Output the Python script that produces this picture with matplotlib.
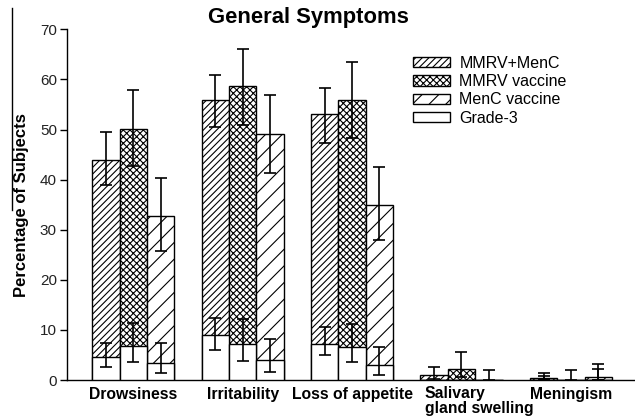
import numpy as np
import matplotlib
matplotlib.use('Agg')
import matplotlib.pyplot as plt
from matplotlib.lines import Line2D
from matplotlib.transforms import ScaledTranslation

plt.rcParams['font.family'] = 'Liberation Sans'
plt.rcParams['hatch.linewidth'] = 0.8

# Symptom categories
categories = ['Drowsiness', 'Irritability', 'Loss of appetite',
              'Salivary\ngland swelling', 'Meningism']
series_names = ['MMRV+MenC', 'MMRV vaccine', 'MenC vaccine']
hatches = ['/////', 'xxxxx', '//']

# Any grade: % of subjects with 95% CI (lower, upper)
mmrv_menc = [43.9, 55.8, 53.0, 1.0, 0.4]
mmrv_menc_lo = [38.9, 50.6, 47.4, 0.3, 0.0]
mmrv_menc_hi = [49.5, 60.9, 58.3, 2.5, 1.3]

mmrv = [50.2, 58.7, 55.9, 2.1, 0.0]
mmrv_lo = [42.7, 51.0, 48.4, 0.6, 0.0]
mmrv_hi = [57.9, 66.1, 63.4, 5.5, 1.9]

menc = [32.7, 49.1, 35.0, 0.0, 0.7]
menc_lo = [25.8, 41.4, 27.9, 0.0, 0.1]
menc_hi = [40.3, 56.9, 42.6, 2.0, 3.1]

# Grade-3 symptoms
g3_mmrv_menc = [4.6, 8.9, 7.2, 0.0, 0.0]
g3_mmrv_menc_lo = [2.5, 6.0, 4.9, 0.0, 0.0]
g3_mmrv_menc_hi = [7.4, 12.4, 10.6, 0.0, 0.8]

g3_mmrv = [6.7, 7.2, 6.6, 0.0, 0.0]
g3_mmrv_lo = [3.5, 3.8, 3.5, 0.0, 0.0]
g3_mmrv_hi = [11.4, 12.1, 11.2, 0.0, 0.0]

g3_menc = [3.3, 3.9, 2.9, 0.0, 0.0]
g3_menc_lo = [1.3, 1.5, 1.0, 0.0, 0.0]
g3_menc_hi = [7.3, 8.2, 6.6, 0.0, 2.2]

main_vals = [mmrv_menc, mmrv, menc]
main_lo = [mmrv_menc_lo, mmrv_lo, menc_lo]
main_hi = [mmrv_menc_hi, mmrv_hi, menc_hi]
g3_vals = [g3_mmrv_menc, g3_mmrv, g3_menc]
g3_lo = [g3_mmrv_menc_lo, g3_mmrv_lo, g3_menc_lo]
g3_hi = [g3_mmrv_menc_hi, g3_mmrv_hi, g3_menc_hi]

fig = plt.figure(figsize=(6.35, 4.17), dpi=100)
ax = fig.add_axes([0.105, 0.0887, 0.895, 0.841])

x = np.arange(len(categories))
width = 0.25


def draw_err(xpos, vals, lo, hi):
    vals, lo, hi = np.array(vals), np.array(lo), np.array(hi)
    keep = hi > lo
    ax.errorbar(xpos[keep], vals[keep], yerr=[vals[keep] - lo[keep], hi[keep] - vals[keep]],
                fmt='none', ecolor='black', elinewidth=1.2, capsize=4.5,
                capthick=1.2, zorder=5, clip_on=False)


handles = []
for j in range(3):
    xpos = x + (j - 1) * width
    b = ax.bar(xpos, main_vals[j], width, color='white', edgecolor='black',
               linewidth=1.0, hatch=hatches[j], zorder=2)
    handles.append(b)
    g = ax.bar(xpos, g3_vals[j], width, color='white', edgecolor='black',
               linewidth=1.0, zorder=3)
    draw_err(xpos, main_vals[j], main_lo[j], main_hi[j])
    draw_err(xpos, g3_vals[j], g3_lo[j], g3_hi[j])
handles.append(g)

ax.set_xlim(-0.609, 4.586)
ax.set_ylim(0, 70)
ax.set_yticks(np.arange(0, 71, 10))
ax.spines['top'].set_visible(False)
ax.spines['right'].set_visible(False)
ax.spines['left'].set_linewidth(1.0)
ax.spines['bottom'].set_linewidth(1.0)
ax.tick_params(axis='y', direction='out', length=5, width=1, labelsize=11,
               pad=2, labelcolor='#222222')
ax.tick_params(axis='x', length=0, pad=5)

# salivary label is left aligned in the original, drawn separately
ax.set_xticks(x)
ax.set_xticklabels([c if i != 3 else '' for i, c in enumerate(categories)],
                   fontsize=11.3, fontweight='bold')
ax.text(3, 0, categories[3], fontsize=11.3, fontweight='bold', ha='left',
        va='top', multialignment='left', linespacing=1.0,
        transform=ax.get_xaxis_transform() + ScaledTranslation(-0.365, -0.06, fig.dpi_scale_trans))

ax.set_ylabel('Percentage of Subjects', fontsize=12, fontweight='bold')
ax.yaxis.set_label_coords(-0.066, 0.5)

fig.text(308 / 635, 1 - 17 / 417, 'General Symptoms', ha='center', va='center',
         fontsize=15.8, fontweight='bold')

ax.legend(handles, series_names + ['Grade-3'], loc='upper left',
          bbox_to_anchor=(413 / 635, 1 - 56 / 417), bbox_transform=fig.transFigure,
          frameon=False, fontsize=11.5, handlelength=2.3, handleheight=0.6,
          handletextpad=0.6, labelspacing=0.2, borderpad=0, borderaxespad=0)

# stray frame line at left edge of the original image
fig.add_artist(Line2D([12 / 635, 12 / 635], [1 - 8 / 417, 1 - 210 / 417],
                      transform=fig.transFigure, color='black', lw=1))

fig.savefig('out.png', dpi=100)
